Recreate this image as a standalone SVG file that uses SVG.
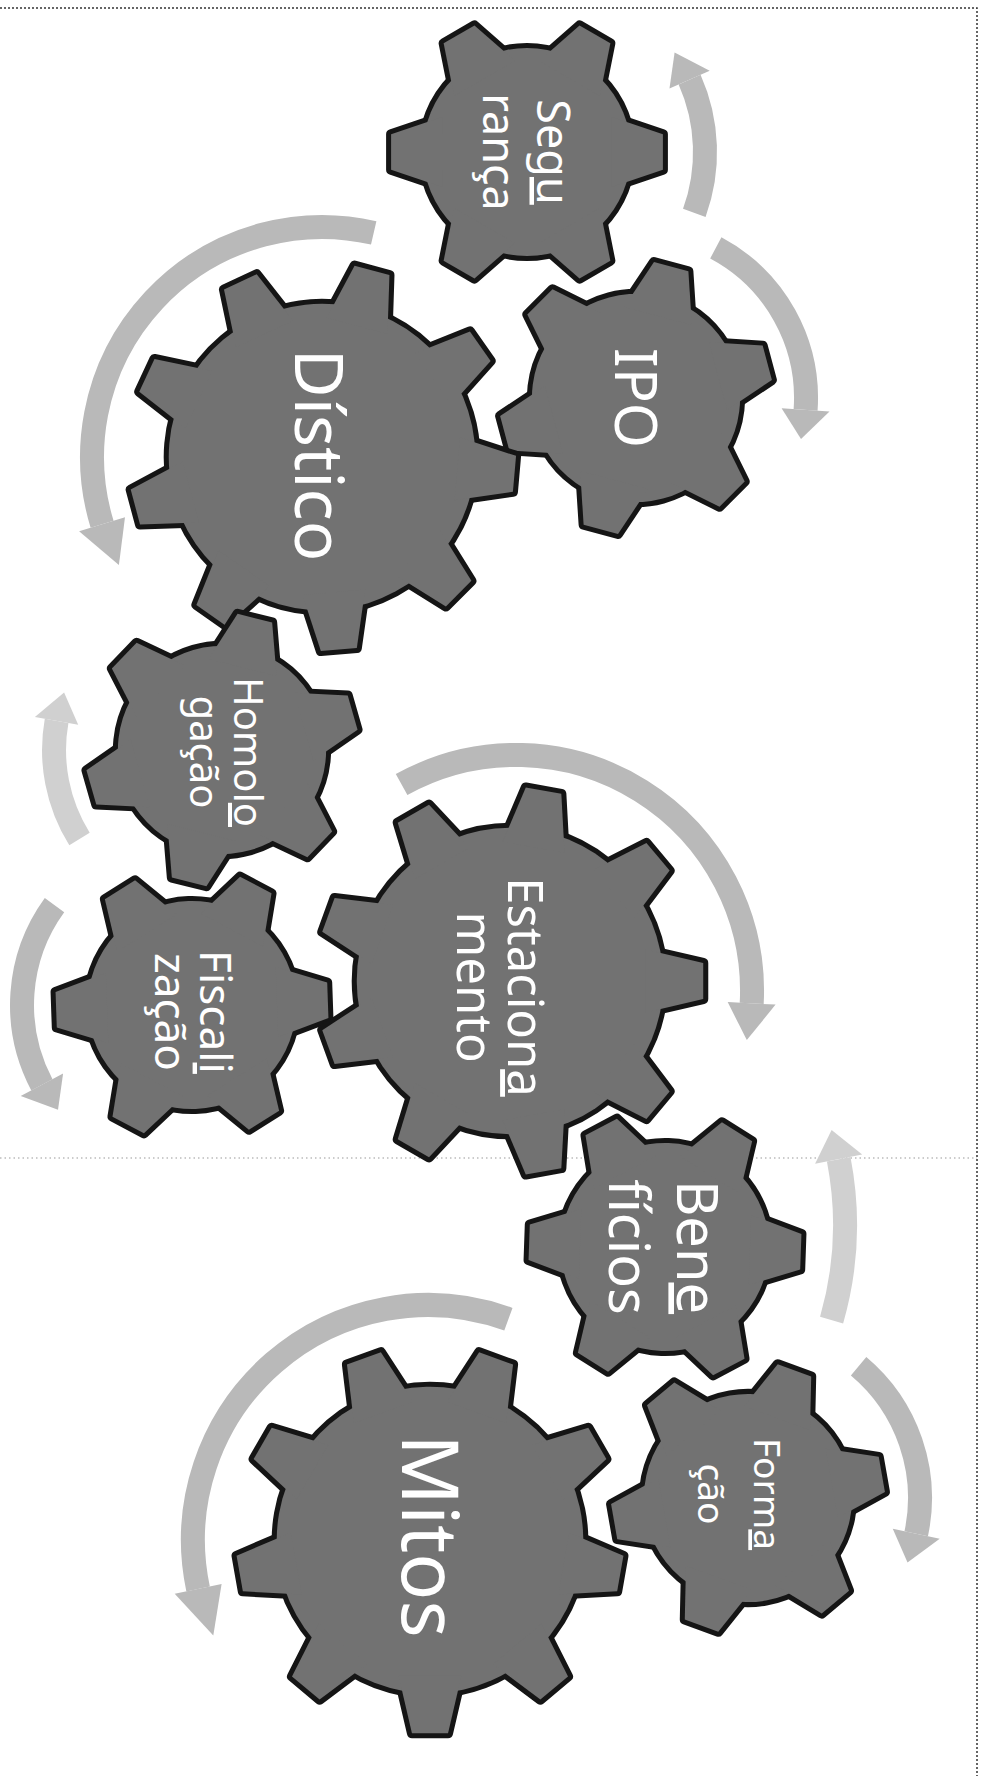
<svg xmlns="http://www.w3.org/2000/svg" width="988" height="1776" viewBox="0 0 988 1776">
<style>
.ol{fill:#151515;stroke:#151515;stroke-linejoin:round}
.fl{fill:#727272}
.lbl{font-family:"Noto Sans","Open Sans","DejaVu Sans",sans-serif;fill:#ffffff;text-anchor:middle}
.u{text-decoration:underline}
.band{fill:none;stroke:#b9b9b9;stroke-width:24}
.head{fill:#b9b9b9}
.faint .band{stroke:#d0d0d0}
.faint .head{fill:#d0d0d0}
.frame{fill:none;stroke:#333333;stroke-width:1.5;stroke-dasharray:2 2}
.mid{fill:none;stroke:#9a9a9a;stroke-width:1.2;stroke-dasharray:1.5 3}
</style>
<defs>
<polygon id="t9" points="70,-16.2 99.6,-9.3 99.6,9.3 70,16.2"/>
<g id="g9">
<circle r="79"/>
<use href="#t9"/>
<use href="#t9" transform="rotate(40)"/>
<use href="#t9" transform="rotate(80)"/>
<use href="#t9" transform="rotate(120)"/>
<use href="#t9" transform="rotate(160)"/>
<use href="#t9" transform="rotate(200)"/>
<use href="#t9" transform="rotate(240)"/>
<use href="#t9" transform="rotate(280)"/>
<use href="#t9" transform="rotate(320)"/>
</g>
<polygon id="t6" points="62,-25.6 99.2,-13 99.2,13 62,25.6"/>
<g id="g6">
<circle r="76"/>
<use href="#t6"/>
<use href="#t6" transform="rotate(60)"/>
<use href="#t6" transform="rotate(120)"/>
<use href="#t6" transform="rotate(180)"/>
<use href="#t6" transform="rotate(240)"/>
<use href="#t6" transform="rotate(300)"/>
</g>
</defs>
<rect width="988" height="1776" fill="#ffffff"/>
<g id="frame">
<path class="frame" d="M0,8 H977 V1776"/>
<path class="mid" d="M0,1158 H977"/>
</g>
<g id="connectors">
<g id="arrow-seguranca"><path class="band" d="M694.3,212.9 A178,178 0 0 0 689.6,79.6"/><polygon class="head" points="669.5,88.6 709.7,70.7 674.6,52.5"/></g>
<g id="arrow-ipo"><path class="band" d="M715.8,247.9 A170,170 0 0 1 805.6,409.9"/><polygon class="head" points="781.6,408.2 829.5,411.5 801,439.1"/></g>
<g id="arrow-distico"><path class="band" d="M373.7,232.9 A230,230 0 0 0 102.1,524.3"/><polygon class="head" points="125,517.2 79.1,531.3 118.9,565"/></g>
<g id="arrow-homologacao" class="faint"><path class="band" d="M79.5,839 A168,168 0 0 1 56.6,720.8"/><polygon class="head" points="78.2,724.7 34.9,717 64.1,692.5"/></g>
<g id="arrow-fiscalizacao"><path class="band" d="M54.5,905.1 A170,170 0 0 0 41.9,1084.8"/><polygon class="head" points="63.1,1073.5 20.7,1096.1 58,1109.7"/></g>
<g id="arrow-estacionamento"><path class="band" d="M401.6,784.6 A236,236 0 0 1 751.7,1003.4"/><polygon class="head" points="727.7,1002.1 775.6,1004.6 746.8,1040.1"/></g>
<g id="arrow-beneficios" class="faint"><path class="band" d="M831.6,1320.1 A345,345 0 0 0 838.7,1159.2"/><polygon class="head" points="815.1,1163.8 862.2,1154.6 831.6,1129.9"/></g>
<g id="arrow-formacao"><path class="band" d="M858.6,1366.2 A172,172 0 0 1 916.2,1533.8"/><polygon class="head" points="892.8,1528.8 939.7,1538.7 907.5,1562.4"/></g>
<g id="arrow-mitos"><path class="band" d="M508.4,1319.2 A235,235 0 0 0 198.1,1588.9"/><polygon class="head" points="221.6,1583.9 174.7,1593.8 213.3,1635.6"/></g>
</g>
<g id="node-seguranca">
<g transform="translate(527,152) scale(1.37)"><use href="#g6" class="ol" stroke-width="7.3"/><use href="#g6" class="fl"/></g>
<text class="lbl" font-size="45" transform="translate(527,152) rotate(90)"><tspan x="0" y="-10">Seg<tspan class="u">u</tspan></tspan><tspan x="0" y="44">rança</tspan></text>
</g>
<g id="node-ipo">
<g transform="translate(636,398) rotate(-15) scale(1.37)"><use href="#g6" class="ol" stroke-width="7.3"/><use href="#g6" class="fl"/></g>
<text class="lbl" font-size="58" transform="translate(636,398) rotate(90)"><tspan x="0" y="21">IPO</tspan></text>
</g>
<g id="node-distico">
<g transform="translate(322,457) rotate(5) scale(1.94)"><use href="#g9" class="ol" stroke-width="5.2"/><use href="#g9" class="fl"/></g>
<text class="lbl" font-size="67" transform="translate(320,455) rotate(90)"><tspan x="0" y="25">Dístico</tspan></text>
</g>
<g id="node-homologacao">
<g transform="translate(222,750) rotate(-16) scale(1.37)"><use href="#g6" class="ol" stroke-width="7.3"/><use href="#g6" class="fl"/></g>
<text class="lbl" font-size="40" transform="translate(222,752) rotate(90)"><tspan x="0" y="-12">Homol<tspan class="u">o</tspan></tspan><tspan x="0" y="32">gação</tspan></text>
</g>
<g id="node-fiscalizacao">
<g transform="translate(192,1005) rotate(-2) scale(1.37)"><use href="#g6" class="ol" stroke-width="7.3"/><use href="#g6" class="fl"/></g>
<text class="lbl" font-size="44" transform="translate(192,1012) rotate(90)"><tspan x="0" y="-8">Fiscal<tspan class="u">i</tspan></tspan><tspan x="0" y="37">zação</tspan></text>
</g>
<g id="node-estacionamento">
<g transform="translate(510,981) scale(1.94)"><use href="#g9" class="ol" stroke-width="5.2"/><use href="#g9" class="fl"/></g>
<text class="lbl" font-size="49" transform="translate(510,987) rotate(90)"><tspan x="0" y="2">Estacion<tspan class="u">a</tspan></tspan><tspan x="0" y="53">mento</tspan></text>
</g>
<g id="node-beneficios">
<g transform="translate(665,1247) rotate(2) scale(1.37)"><use href="#g6" class="ol" stroke-width="7.3"/><use href="#g6" class="fl"/></g>
<text class="lbl" font-size="56" transform="translate(665,1247) rotate(90)"><tspan x="0" y="-12">Ben<tspan class="u">e</tspan></tspan><tspan x="0" y="56">fícios</tspan></text>
</g>
<g id="node-formacao">
<g transform="translate(748,1498) rotate(-10) scale(1.37)"><use href="#g6" class="ol" stroke-width="7.3"/><use href="#g6" class="fl"/></g>
<text class="lbl" font-size="37" transform="translate(748,1494) rotate(90)"><tspan x="0" y="-6">Form<tspan class="u">a</tspan></tspan><tspan x="0" y="50">ção</tspan></text>
</g>
<g id="node-mitos">
<g transform="translate(430,1540) rotate(10) scale(1.94)"><use href="#g9" class="ol" stroke-width="5.2"/><use href="#g9" class="fl"/></g>
<text class="lbl" font-size="78" transform="translate(430,1536) rotate(90)"><tspan x="0" y="28">Mitos</tspan></text>
</g>
</svg>
